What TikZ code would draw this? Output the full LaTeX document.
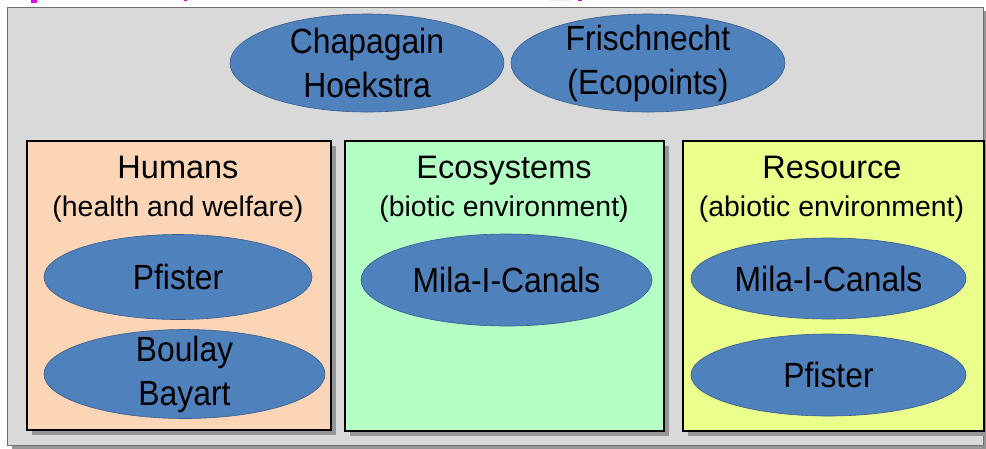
\documentclass[tikz,border=0pt]{standalone}
\usepackage{fontspec}
\setmainfont{Liberation Sans}
\newfontfamily\narrowfont[FakeStretch=0.91]{Liberation Sans}
\usetikzlibrary{shapes.geometric,shadows}

\definecolor{panelgray}{RGB}{217,217,217}
\definecolor{paneledge}{RGB}{110,110,110}
\definecolor{shadowgray}{RGB}{150,150,150}
\definecolor{peach}{RGB}{251,213,181}
\definecolor{mint}{RGB}{180,255,196}
\definecolor{lime}{RGB}{235,255,140}
\definecolor{blobblue}{RGB}{79,129,189}
\definecolor{blobedge}{RGB}{56,93,138}
\definecolor{headline}{RGB}{230,0,230}

\tikzset{
  panel/.style={fill=panelgray, draw=paneledge, line width=1.4pt,
    copy shadow={shadow xshift=4pt, shadow yshift=-3pt, fill=shadowgray, draw=none}},
  catbox/.style={draw=black, line width=1.8pt, inner sep=0pt, anchor=north west,
    copy shadow={shadow xshift=5pt, shadow yshift=-5pt, fill=shadowgray, draw=none}},
  blob/.style={ellipse, fill=blobblue, draw=blobedge, line width=0.6pt,
    inner sep=0pt, align=center, text=black,
    font=\narrowfont\fontsize{35}{44}\selectfont},
  % two-line labels: shrink the text box so the ellipse keeps its given size
  twoline/.style={inner ysep=-24pt},
  cattitle/.style={anchor=base, font=\fontsize{32.5}{36}\selectfont},
  catsub/.style={anchor=base, font=\fontsize{28.4}{32}\selectfont},
}

\begin{document}
\begin{tikzpicture}[x=1pt, y=-1pt]
\useasboundingbox (0,0) rectangle (986,448);

% descenders of the heading line, cut by the top edge
\fill[headline] (31,0) rectangle (37,3);
\fill[headline] (184,0) rectangle (187,1.2);
\fill[headline] (550,0) arc[start angle=180, end angle=360, x radius=10, y radius=3.6] -- cycle;
\fill[headline] (578,0) rectangle (582,1.2);

% grey background panel
\node[panel, minimum width=976, minimum height=438, anchor=north west, inner sep=0pt] (back) at (7,7) {};

% the two general methods
\node[blob, twoline, minimum width=274, minimum height=98] (chap) at (367,63) {Chapagain\\Hoekstra};
\node[blob, twoline, minimum width=274, minimum height=98] (frisch) at (648,63) {Frischnecht\\(Ecopoints)};

% three areas of protection
\node[catbox, fill=peach, minimum width=304, minimum height=289] (humans) at (26,140) {};
\node[catbox, fill=mint, minimum width=319, minimum height=290] (eco) at (344,140) {};
\node[catbox, fill=lime, minimum width=301, minimum height=290] (res) at (682,140) {};

\node[cattitle] (humansT) at (178,178) {Humans};
\node[catsub] (humansS) at (178,216.5) {(health and welfare)};
\node[cattitle] (ecoT) at (504,178) {Ecosystems};
\node[catsub] (ecoS) at (504,216.5) {(biotic environment)};
\node[cattitle] (resT) at (832,178) {Resource};
\node[catsub] (resS) at (831.5,216.5) {(abiotic environment)};

% methods within each area
\node[blob, minimum width=268, minimum height=85] (pfH) at (178,277) {Pfister};
\node[blob, twoline, minimum width=281, minimum height=89] (boulay) at (184.5,374) {Boulay\\Bayart};
\node[blob, minimum width=291, minimum height=92] (milaE) at (506.5,280) {Mila-I-Canals};
\node[blob, minimum width=275, minimum height=81] (milaR) at (828.5,278.5) {Mila-I-Canals};
\node[blob, minimum width=275, minimum height=82] (pfR) at (828.5,375) {Pfister};
\end{tikzpicture}
\end{document}
